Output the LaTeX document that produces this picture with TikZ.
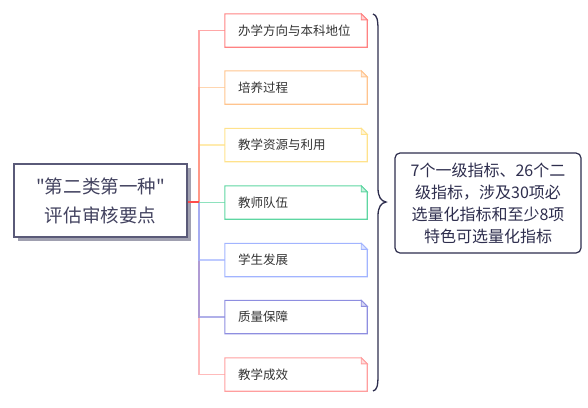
\documentclass[tikz,border=0pt]{standalone}
\usepackage{fontspec}
\setmainfont{Noto Sans CJK SC}[Ligatures=TeXOff]
\definecolor{cA}{HTML}{FF8282}
\definecolor{cB}{HTML}{FFC48E}
\definecolor{cC}{HTML}{FFE28C}
\definecolor{cD}{HTML}{5ED6A2}
\definecolor{cE}{HTML}{A2B4FF}
\definecolor{cF}{HTML}{8E8EE0}
\definecolor{cG}{HTML}{FF9E9E}
\definecolor{navy}{HTML}{2E2E4E}
\definecolor{txt}{HTML}{333333}
\definecolor{mainborder}{HTML}{5A5A78}
\definecolor{shadowgray}{HTML}{A0A0B0}
\begin{document}
\begin{tikzpicture}[x=1bp,y=-1bp,
  childbox/.style={minimum width=142bp,minimum height=33bp,inner sep=0pt,text width=116bp,align=left,font=\fontsize{12.5bp}{15bp}\selectfont,text=txt},
  conn/.style={line width=1.1bp,opacity=0.7},
  mainbox/.style={draw=mainborder,line width=1.1bp,fill=white,minimum width=173bp,minimum height=73bp,align=center,inner sep=0pt,font=\fontsize{18.5bp}{29bp}\selectfont,text=navy!90},
  mainshadow/.style={fill=shadowgray,minimum width=173bp,minimum height=73bp,inner sep=0pt},
  notebox/.style={draw=navy,line width=1.2bp,rounded corners=5bp,fill=white,minimum width=186bp,minimum height=100bp,align=center,inner sep=0pt,font=\fontsize{16bp}{22bp}\selectfont,text=navy},
  bracestyle/.style={draw=navy,line width=1.3bp}
]
\useasboundingbox (0,0) rectangle (588,407);
\coordinate (jn) at (199,202);
% main node
\node[mainshadow] (msh) at (104.5,204.5) {};
\node[mainbox] (main) at (100.5,200.5) {"第二类第一种"\\评估审核要点};
% children
\foreach \i/\y/\c/\t in {1/30.5/cA/办学方向与本科地位,2/87.5/cB/培养过程,3/145/cC/教学资源与利用,4/202.5/cD/教师队伍,5/260/cE/学生发展,6/317/cF/质量保障,7/374.5/cG/教学成效}{
  \node[childbox] (b\i) at (296,\y) {\t};
  \draw[\c,line width=1.1bp,line join=miter] (b\i.north west) -- ([xshift=-6bp]b\i.north east) -- ([yshift=-6bp]b\i.north east) -- (b\i.south east) -- (b\i.south west) -- cycle;
  \draw[\c,line width=0.9bp,fill=\c!35] ([xshift=-6bp]b\i.north east) -- ([xshift=-6bp,yshift=-6bp]b\i.north east) -- ([yshift=-6bp]b\i.north east) -- cycle;
}
% connectors
\foreach \i/\c in {7/cG,6/cF,5/cE,4/cD,3/cC,2/cB,1/cA}{
  \draw[conn,\c] (jn) |- (b\i.west);
}
\draw[line width=1.1bp,color=red!70!white] (main.east |- jn) -- (jn);
% brace
\coordinate (bt) at (373,14);
\coordinate (bb) at (373,391);
\coordinate (btip) at (386,202);
\draw[bracestyle] (bt) .. controls (377,15) and (378,20) .. (378,30) -- (378,188) .. controls (378,197) and (381,201) .. (btip) .. controls (381,203) and (378,207) .. (378,216) -- (378,375) .. controls (378,386) and (377,390) .. (bb);
% note
\node[notebox] (note) at (488,203) {7个一级指标、26个二\\级指标，涉及30项必\\选量化指标和至少8项\\特色可选量化指标};
\end{tikzpicture}
\end{document}
